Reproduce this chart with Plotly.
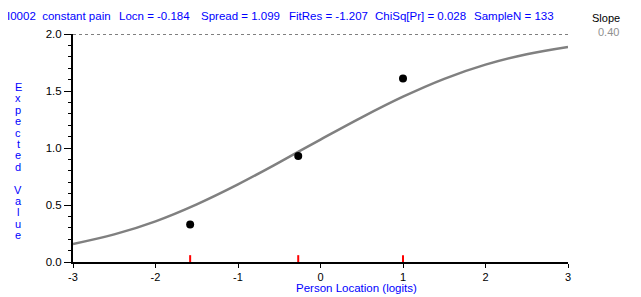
import plotly.graph_objects as go

# ---- data ----
theta = [-3.0, -2.5, -2.0, -1.5, -1.0, -0.5, 0.0, 0.5, 1.0, 1.5, 2.0, 2.5, 3.0]
expected = [0.158, 0.242, 0.357, 0.506, 0.681, 0.874, 1.074, 1.269, 1.450, 1.607, 1.731, 1.823, 1.887]
class_loc = [-1.58, -0.27, 1.0]
class_obs = [0.33, 0.93, 1.61]
xtick_vals = [-3, -2, -1, 0, 1, 2, 3]
xtick_text = ["-3", "-2", "-1", "0", "1", "2", "3"]
ytick_vals = [0.0, 0.5, 1.0, 1.5, 2.0]
ytick_text = ["0.0", "0.5", "1.0", "1.5", "2.0"]
header_texts = ["I0002&nbsp;&nbsp;constant pain", "Locn = -0.184", "Spread = 1.099",
                "FitRes = -1.207", "ChiSq[Pr] = 0.028", "SampleN = 133"]
slope_value = "0.40"

# page has an 8px body margin
OFF = 8
PAGE_W, PAGE_H = 641, 297
W, H = PAGE_W - OFF, PAGE_H - OFF
# plot area in page pixels: x 73..568, y 34..262
PL, PR, PT, PB = 73, 568, 34, 262
L, T = PL - OFF, PT - OFF
PW, PH = PR - PL, PB - PT
R, B = W - L - PW, H - T - PH
FONT = "Liberation Sans, Arial, sans-serif"
BLUE = "#0000ff"


def px(xp):  # page pixel -> paper
    return (xp - PL) / PW


def py(yp):
    return (PB - yp) / PH


fig = go.Figure()

fig.add_trace(go.Scatter(x=theta, y=expected, mode="lines",
                         line=dict(color="#808080", width=2.5, shape="spline"),
                         hoverinfo="skip", showlegend=False))
fig.add_trace(go.Scatter(x=class_loc, y=class_obs, mode="markers",
                         marker=dict(color="black", size=8),
                         showlegend=False))

shapes = []
shapes.append(dict(type="line", xref="x", yref="y", x0=xtick_vals[0], x1=xtick_vals[-1],
                   y0=ytick_vals[-1], y1=ytick_vals[-1],
                   line=dict(color="black", width=1, dash="3px,3px"), layer="below"))
for cx in class_loc:
    shapes.append(dict(type="line", xref="x", yref="y", x0=cx, x1=cx, y0=0, y1=0.06,
                       line=dict(color="red", width=2), layer="above"))

annotations = []
header_px = [5, 117, 199, 287, 373, 472]
for txt, xp in zip(header_texts, header_px):
    annotations.append(dict(text=txt, xref="paper", yref="paper", x=px(xp), y=py(16),
                            xanchor="left", yanchor="middle", showarrow=False,
                            font=dict(family=FONT, size=11.5, color=BLUE)))
annotations.append(dict(text="Slope", xref="paper", yref="paper", x=px(606), y=py(18),
                        xanchor="center", yanchor="middle", showarrow=False,
                        font=dict(family=FONT, size=11, color="black")))
annotations.append(dict(text=slope_value, xref="paper", yref="paper", x=px(608), y=py(32),
                        xanchor="center", yanchor="middle", showarrow=False,
                        font=dict(family=FONT, size=11, color="#909090")))
letters = list("Expected") + [" "] + list("Value")
for i, ch in enumerate(letters):
    if ch == " ":
        continue
    annotations.append(dict(text=ch, xref="paper", yref="paper", x=px(18), y=py(87 + i * 11.4),
                            xanchor="center", yanchor="middle", showarrow=False,
                            font=dict(family=FONT, size=11, color=BLUE)))
annotations.append(dict(text="Person Location (logits)", xref="paper", yref="paper",
                        x=px(356), y=py(288), xanchor="center", yanchor="middle",
                        showarrow=False, font=dict(family=FONT, size=11.5, color=BLUE)))

fig.update_layout(
    width=W, height=H,
    margin=dict(l=L, r=R, t=T, b=B, pad=0),
    paper_bgcolor="white", plot_bgcolor="white",
    shapes=shapes, annotations=annotations,
    font=dict(family=FONT, size=11, color="black"),
    xaxis=dict(range=[-3, 3], tickvals=xtick_vals, ticktext=xtick_text,
               showgrid=False, zeroline=False, showline=True, linecolor="black",
               linewidth=2, ticks="outside", ticklen=4, tickcolor="black", tickwidth=1,
               tickfont=dict(family=FONT, size=11, color="black")),
    yaxis=dict(range=[0, 2], tickvals=ytick_vals, ticktext=ytick_text,
               showgrid=False, zeroline=False, showline=True, linecolor="black",
               linewidth=2, ticks="outside", ticklen=7, tickcolor="black", tickwidth=1,
               tickfont=dict(family=FONT, size=11.5, color="black"),
               minor=dict(dtick=0.1, ticks="outside", ticklen=3, tickcolor="black",
                          tickwidth=1, showgrid=False)),
)

fig.write_html("out.html")
